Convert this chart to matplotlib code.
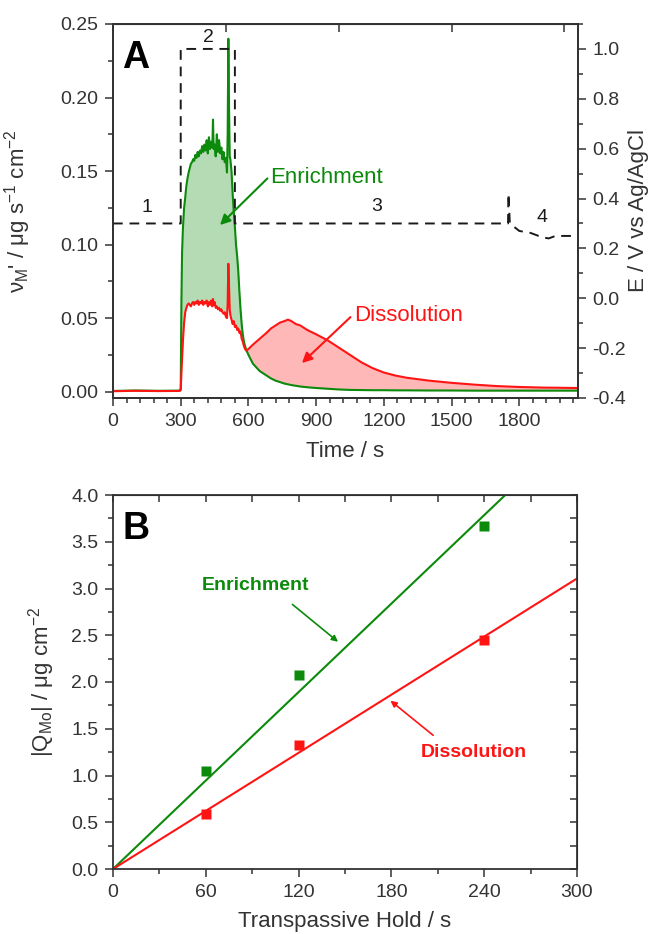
import numpy as np
import matplotlib
matplotlib.use("Agg")
import matplotlib.pyplot as plt
from matplotlib.ticker import MultipleLocator

plt.rcParams['font.family'] = ['Liberation Sans', 'DejaVu Sans']
plt.rcParams['axes.unicode_minus'] = False

GREEN = '#0b8a0b'
RED = '#ff1414'
INK = '#333333'

## Panel A: mass rates (ug s^-1 cm^-2) vs time
time_s = [0, 100, 200, 295, 300, 303, 306, 310, 315, 320, 325, 330, 335, 340, 345, 350,
          355, 360, 365, 370, 375, 380, 385, 390, 395, 400, 405, 410, 415, 420, 425, 430,
          435, 440, 443, 446, 450, 455, 460, 465, 470, 475, 480, 485, 490, 495, 500, 505,
          508, 511, 514, 517, 520, 525, 530, 535, 540, 545, 550, 555, 560, 565, 570, 575,
          580, 585, 590, 600, 620, 650, 680, 700, 720, 740, 760, 775, 790, 810, 830, 860,
          900, 950, 1000, 1050, 1100, 1150, 1200, 1250, 1300, 1400, 1500, 1600, 1700, 1800,
          1900, 2060]
enrich_rate = [0.0005, 0.0008, 0.0006, 0.0007, 0.002, 0.060, 0.095, 0.112, 0.125, 0.132,
               0.140, 0.145, 0.149, 0.152, 0.155, 0.156, 0.158, 0.157, 0.161, 0.159, 0.163,
               0.160, 0.164, 0.162, 0.167, 0.163, 0.168, 0.164, 0.171, 0.162, 0.173, 0.165,
               0.170, 0.166, 0.185, 0.165, 0.168, 0.160, 0.175, 0.163, 0.171, 0.162, 0.166,
               0.158, 0.163, 0.156, 0.159, 0.149, 0.175, 0.240, 0.195, 0.160, 0.158, 0.150,
               0.135, 0.122, 0.112, 0.100, 0.092, 0.082, 0.068, 0.056, 0.046, 0.039, 0.034,
               0.031, 0.0285, 0.025, 0.019, 0.014, 0.011, 0.009, 0.0075, 0.0065, 0.0055, 0.005,
               0.0045, 0.004, 0.0035, 0.003, 0.0025, 0.002, 0.0015, 0.0012, 0.0011, 0.001,
               0.001, 0.0009, 0.0009, 0.0008, 0.0008, 0.0007, 0.0007, 0.0007, 0.0007, 0.0007]
dissol_rate = [0.0003, 0.0006, 0.0004, 0.0005, 0.001, 0.012, 0.022, 0.035, 0.047, 0.054,
               0.057, 0.059, 0.060, 0.059, 0.058, 0.060, 0.061, 0.059, 0.061, 0.060, 0.062,
               0.059, 0.061, 0.060, 0.062, 0.059, 0.061, 0.060, 0.062, 0.058, 0.061, 0.059,
               0.062, 0.058, 0.063, 0.059, 0.061, 0.057, 0.058, 0.056, 0.057, 0.055, 0.056,
               0.054, 0.053, 0.054, 0.051, 0.050, 0.060, 0.087, 0.072, 0.056, 0.052, 0.049,
               0.046, 0.048, 0.044, 0.045, 0.042, 0.043, 0.040, 0.041, 0.036, 0.034, 0.031,
               0.029, 0.028, 0.029, 0.032, 0.036, 0.040, 0.043, 0.045, 0.047, 0.048, 0.049,
               0.048, 0.046, 0.045, 0.042, 0.039, 0.035, 0.030, 0.025, 0.020, 0.016, 0.013,
               0.011, 0.0095, 0.0075, 0.006, 0.0048, 0.0038, 0.0032, 0.0028, 0.0025]

# applied potential (V vs Ag/AgCl)
pot_time = [0, 300, 300, 540, 540, 1750, 1752, 1758, 1800, 1850, 1900, 1930, 1960, 2060]
pot_E = [0.30, 0.30, 1.00, 1.00, 0.30, 0.30, 0.42, 0.30, 0.27, 0.262, 0.245, 0.24, 0.25, 0.25]
step_labels = ['1', '2', '3', '4']
step_label_t = [150, 421, 1170, 1901]
step_label_E = [0.364, 1.044, 0.368, 0.324]

## Panel B: integrated charge vs hold time
hold_s = [60, 120, 240]
q_enrich = [1.05, 2.07, 3.67]
q_dissol = [0.59, 1.33, 2.45]

LABEL_FS = 16
TICK_FS = 14


def style_ax(ax):
    for sp in ax.spines.values():
        sp.set_color(INK)
        sp.set_linewidth(1.3)
    ax.tick_params(which='both', direction='out', colors=INK, width=1.1,
                   labelsize=TICK_FS, pad=4.5)
    ax.tick_params(which='major', length=6)
    ax.tick_params(which='minor', length=3.5)


def main():
    t = np.array(time_s)
    g = np.array(enrich_rate)
    r = np.array(dissol_rate)
    assert len(t) == len(g) == len(r)

    fig = plt.figure(figsize=(6.48, 9.34), dpi=100)
    W, H = 648.0, 934.0
    axA = fig.add_axes([113 / W, 1 - 398 / H, (578 - 113) / W, (398 - 24) / H])
    axB = fig.add_axes([113 / W, 1 - 869 / H, (577 - 113) / W, (869 - 495) / H])

    ## panel A
    axA.fill_between(t, g, r, where=g >= r, interpolate=True, color=GREEN, alpha=0.3, lw=0)
    axA.fill_between(t, r, g, where=r >= g, interpolate=True, color=RED, alpha=0.3, lw=0)
    axA.plot(t, g, color=GREEN, lw=1.5)
    axA.plot(t, r, color=RED, lw=1.5)
    axA.set_xlim(0, 2060)
    axA.set_ylim(-0.0043, 0.25)
    style_ax(axA)
    axA.xaxis.set_major_locator(MultipleLocator(300))
    axA.xaxis.set_minor_locator(MultipleLocator(60))
    axA.yaxis.set_major_locator(MultipleLocator(0.05))
    axA.yaxis.set_minor_locator(MultipleLocator(0.025))
    axA.yaxis.set_major_formatter(plt.FormatStrFormatter('%.2f'))
    axA.set_xlabel('Time / s', fontsize=LABEL_FS, color=INK)
    axA.xaxis.set_label_coords(0.5, -0.116)
    axA.set_ylabel("ν$_\\mathregular{M}$' / μg s$^\\mathregular{-1}$ cm$^\\mathregular{-2}$",
                   fontsize=LABEL_FS, color=INK)
    axA.yaxis.set_label_coords(-0.172, 0.5)
    sec = axA.secondary_xaxis('top')
    sec.xaxis.set_major_locator(MultipleLocator(500))
    sec.tick_params(direction='in', length=6, width=1.1, colors=INK, labeltop=False)

    axE = axA.twinx()
    axE.plot(pot_time, pot_E, color='#1a1a1a', lw=1.4, linestyle=(0, (5, 3.5)))
    axE.set_ylim(-0.4, 1.1)
    style_ax(axE)
    axE.yaxis.set_major_locator(MultipleLocator(0.2))
    axE.yaxis.set_minor_locator(MultipleLocator(0.1))
    axE.yaxis.set_major_formatter(plt.FormatStrFormatter('%.1f'))
    axE.set_ylabel('E / V vs Ag/AgCl', fontsize=LABEL_FS, color=INK)
    axE.yaxis.set_label_coords(1.107, 0.5)
    for lab, tt, ee in zip(step_labels, step_label_t, step_label_E):
        axE.text(tt, ee, lab, fontsize=14, ha='center', va='center', color='#1a1a1a')

    axA.annotate('', xy=(474, 0.1133), xytext=(684, 0.1450),
                 arrowprops=dict(arrowstyle='-|>', color=GREEN, lw=1.5, mutation_scale=15,
                                 shrinkA=0, shrinkB=0))
    axA.text(694, 0.1453, 'Enrichment', color=GREEN, fontsize=16, ha='left', va='center')
    axA.annotate('', xy=(837, 0.0195), xytext=(1052, 0.0507),
                 arrowprops=dict(arrowstyle='-|>', color=RED, lw=1.5, mutation_scale=15,
                                 shrinkA=0, shrinkB=0))
    axA.text(1066, 0.052, 'Dissolution', color=RED, fontsize=16, ha='left', va='center')
    axA.text(0.019, 0.958, 'A', transform=axA.transAxes, fontsize=27, fontweight='bold',
             ha='left', va='top', color='black')

    ## panel B
    hx = np.array(hold_s, dtype=float)
    xs = np.array([0.0, 300.0])
    for q, col in ((q_enrich, GREEN), (q_dissol, RED)):
        q = np.array(q)
        slope = np.sum(hx * q) / np.sum(hx * hx)  # fit through origin
        axB.plot(xs, slope * xs, color=col, lw=1.5)
        axB.plot(hx, q, 's', color=col, ms=6.5, mec='none')
    axB.set_xlim(0, 300)
    axB.set_ylim(0, 4.0)
    style_ax(axB)
    axB.xaxis.set_major_locator(MultipleLocator(60))
    axB.xaxis.set_minor_locator(MultipleLocator(30))
    axB.yaxis.set_major_locator(MultipleLocator(0.5))
    axB.yaxis.set_minor_locator(MultipleLocator(0.25))
    axB.yaxis.set_major_formatter(plt.FormatStrFormatter('%.1f'))
    axB.set_xlabel('Transpassive Hold / s', fontsize=LABEL_FS, color=INK)
    axB.xaxis.set_label_coords(0.5, -0.113)
    axB.set_ylabel('|Q$_\\mathregular{Mo}$| / μg cm$^\\mathregular{-2}$', fontsize=LABEL_FS,
                   color=INK)
    axB.yaxis.set_label_coords(-0.12, 0.5)
    secx = axB.secondary_xaxis('top')
    secx.xaxis.set_major_locator(MultipleLocator(30))
    secx.tick_params(direction='in', length=5, width=1.1, colors=INK, labeltop=False)
    secy = axB.secondary_yaxis('right')
    secy.yaxis.set_major_locator(MultipleLocator(0.25))
    secy.tick_params(direction='in', length=5, width=1.1, colors=INK, labelright=False)

    axB.annotate('', xy=(145.5, 2.43), xytext=(116, 2.83),
                 arrowprops=dict(arrowstyle='-|>', color=GREEN, lw=1.2, mutation_scale=9,
                                 shrinkA=0, shrinkB=0))
    axB.text(92, 3.03, 'Enrichment', color=GREEN, fontsize=14, fontweight='bold',
             ha='center', va='center')
    axB.annotate('', xy=(179.4, 1.80), xytext=(207, 1.43),
                 arrowprops=dict(arrowstyle='-|>', color=RED, lw=1.2, mutation_scale=9,
                                 shrinkA=0, shrinkB=0))
    axB.text(233.5, 1.25, 'Dissolution', color=RED, fontsize=14, fontweight='bold',
             ha='center', va='center')
    axB.text(0.021, 0.958, 'B', transform=axB.transAxes, fontsize=27, fontweight='bold',
             ha='left', va='top', color='black')

    fig.savefig('out.png', dpi=100)


if __name__ == "__main__":
    main()
